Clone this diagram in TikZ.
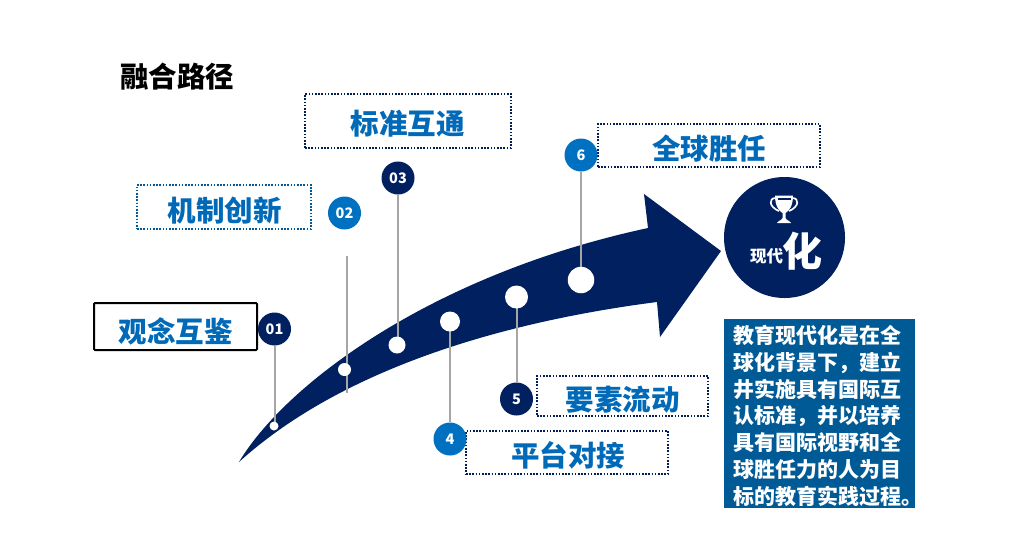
\documentclass[tikz,border=0pt]{standalone}
\usepackage{fontspec}
\newfontfamily\cjk{Noto Sans CJK SC}
\definecolor{navy}{HTML}{002060}
\definecolor{midblue}{HTML}{0070C0}
\definecolor{panel}{HTML}{005A96}
\definecolor{stem}{HTML}{A6A6A6}
\tikzset{
  lbl/.style={font=\cjk\bfseries\fontsize{28.5}{30}\selectfont,text=midblue!92!navy,inner sep=0pt},
  dotbox/.style={draw=navy!90!black,line width=1.6pt,dash pattern=on 1.6pt off 1.6pt,fill=white,inner sep=0pt},
  numdark/.style={circle,fill=navy,text=white,minimum size=33pt,inner sep=0pt,font=\cjk\bfseries\fontsize{14.5}{16}\selectfont},
  numblue/.style={numdark,fill=midblue},
  dot/.style={circle,fill=white,inner sep=0pt},
  stemline/.style={draw=stem,line width=2pt}
}
\begin{document}
\begin{tikzpicture}[x=1pt,y=-1pt]
\useasboundingbox (0,0) rectangle (1011,547);
\fill[white] (0,0) rectangle (1011,547);
% title
\node[font=\cjk\bfseries\fontsize{28.5}{30}\selectfont,text=black,inner sep=0pt] (title) at (177,77) {融合路径};
% boxes
\node[draw=black,line width=2pt,rounded corners=1pt,fill=white,minimum width=163pt,minimum height=47pt,inner sep=0pt] (b1) at (175.5,326.5) {};
\node[dotbox,draw=panel,minimum width=174pt,minimum height=44pt] (b2) at (224,207) {};
\node[dotbox,minimum width=206pt,minimum height=54pt] (b3) at (408,121) {};
\node[dotbox,minimum width=222pt,minimum height=43pt] (b6) at (709,145.5) {};
\node[dotbox,minimum width=171pt,minimum height=40pt] (b5) at (622.5,396) {};
\node[dotbox,minimum width=202pt,minimum height=43pt] (b4) at (567,452.5) {};
\node[lbl] (t1) at (175.5,331.5) {观念互鉴};
\node[lbl] (t2) at (224.5,210.5) {机制创新};
\node[lbl] (t3) at (407.5,124) {标准互通};
\node[lbl] (t6) at (709,149) {全球胜任};
\node[lbl] (t5) at (622.5,399.5) {要素流动};
\node[lbl] (t4) at (568,455.5) {平台对接};
% arrow
\fill[navy] (239,462) .. controls (285,385) and (430,275) .. (648,228)
  -- (644,194) -- (721,251) -- (660,337) -- (657,302)
  .. controls (540,317) and (356,356) .. (239,462) -- cycle;
% anchors
\coordinate (s2a) at (347,256);
\coordinate (s2b) at (347,393);
% numbered circles
\node[numdark] (n1) at (274.5,329) {01};
\node[numblue] (n2) at (344.5,213) {02};
\node[numdark] (n3) at (398,178) {03};
\node[numblue] (n6) at (581,155) {6};
\node[numdark] (n5) at (516.5,399) {5};
\node[numblue] (n4) at (450,439) {4};
% dots
\coordinate (d1) at (274,426);
\coordinate (d2) at (344.5,369.5);
\coordinate (d3) at (397,345);
\coordinate (d4) at (450,321.5);
\coordinate (d5) at (516.5,297);
\coordinate (d6) at (581,280);
% stems
\draw[stemline] (n1.south) -- (n1.south |- d1);
\draw[stemline] (s2a) -- (s2b);
\draw[stemline] (n3.south) -- (n3.south |- d3);
\draw[stemline] (n6.south) -- (n6.south |- d6);
\draw[stemline] (n5.north) -- (n5.north |- d5);
\draw[stemline] (n4.north) -- (n4.north |- d4);
\node[dot,minimum size=9pt] at (d1) {};
\node[dot,minimum size=13pt] at (d2) {};
\node[dot,minimum size=17pt] at (d3) {};
\node[dot,minimum size=20pt] at (d4) {};
\node[dot,minimum size=23pt] at (d5) {};
\node[dot,minimum size=26.5pt] at (d6) {};
% goal circle
\node[circle,fill=navy,minimum size=121pt,inner sep=0pt] (goal) at (784.5,237.5) {};
\node[font=\cjk\bfseries\fontsize{16.5}{18}\selectfont,text=white,inner sep=0pt] (xd) at (766.5,256) {现代};
\node[font=\cjk\bfseries\fontsize{40}{42}\selectfont,text=white,inner sep=0pt] (hua) at (802,251) {化};
% trophy
\begin{scope}[shift={(784,209)}]
\draw[white,line width=1.7pt] (-8,-11) .. controls (-16,-11) and (-15,-2) .. (-5,2);
\draw[white,line width=1.7pt] (8,-11) .. controls (16,-11) and (15,-2) .. (5,2);
\fill[white] (-9,-13.5) -- (9,-13.5) .. controls (9,-3) and (5,2) .. (1.5,4) -- (1.5,9) .. controls (2,11) and (6,12) .. (7,14) -- (-7,14) .. controls (-6,12) and (-2,11) .. (-1.5,9) -- (-1.5,4) .. controls (-5,2) and (-9,-3) .. (-9,-13.5) -- cycle;
\fill[navy] (-6.5,-11.5) rectangle (6.5,-9.5);
\end{scope}
% panel
\node[fill=panel,minimum width=191pt,minimum height=189pt,inner sep=0pt] (panelbox) at (819.5,413.5) {};
\node[font=\cjk\bfseries\fontsize{21}{26.8}\selectfont,text=white,align=left,inner sep=0pt,anchor=north west] (paneltxt) at (733,325) {教育现代化是在全\\球化背景下，建立\\井实施具有国际互\\认标准，并以培养\\具有国际视野和全\\球胜任力的人为目\\标的教育实践过程。};
\end{tikzpicture}
\end{document}
